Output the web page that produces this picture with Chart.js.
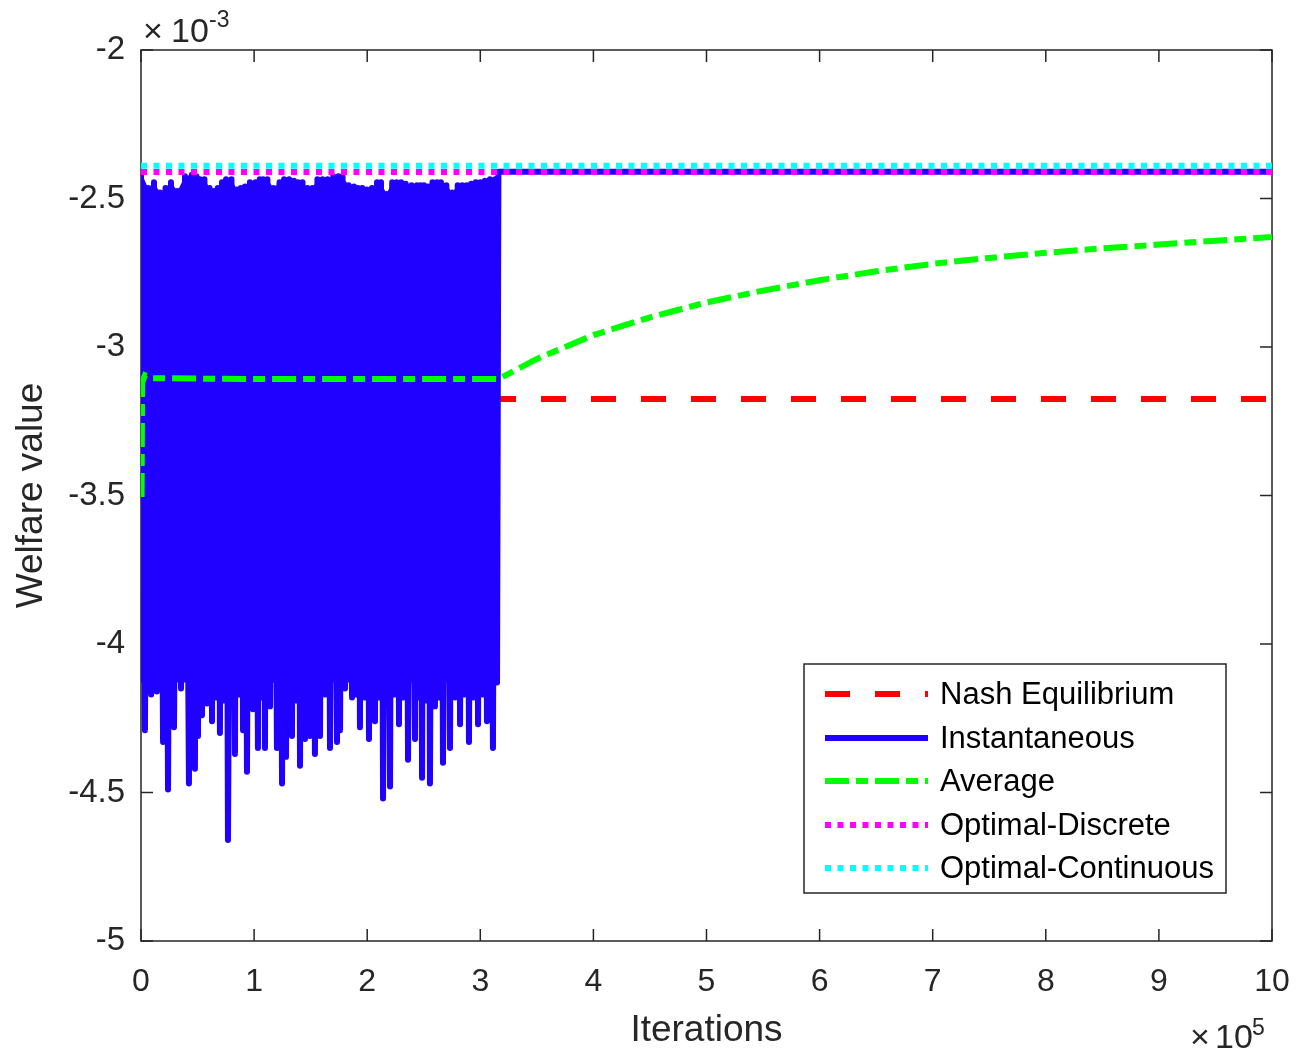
<!DOCTYPE html>
<html>
<head>
<meta charset="utf-8">
<script src="https://cdn.jsdelivr.net/npm/chart.js@4"></script>
<style>
  html, body { margin: 0; padding: 0; background: #ffffff; }
  #wrap { width: 1298px; height: 1053px; }
</style>
</head>
<body>
<div id="wrap"><canvas id="c" width="1298" height="1053"></canvas></div>
<script>
// ---- Data (x in units of 10^5 iterations, y in units of 10^-3) ----
const seriesNames = ['Nash Equilibrium', 'Instantaneous', 'Average', 'Optimal-Discrete', 'Optimal-Continuous'];

const xTickValues = [0, 1, 2, 3, 4, 5, 6, 7, 8, 9, 10];
const yTickValues = [-5, -4.5, -4, -3.5, -3, -2.5, -2];

const nashX = [0, 10];
const nashY = [-3.175, -3.175];

const optDiscreteX = [0, 10];
const optDiscreteY = [-2.411, -2.411];

const optContinuousX = [0, 10];
const optContinuousY = [-2.39, -2.39];

const instX = [
  0.000, 0.035, 0.062, 0.090, 0.115, 0.140, 0.167, 0.195, 0.217, 0.239,
  0.265, 0.292, 0.323, 0.354, 0.389, 0.424, 0.450, 0.477, 0.490, 0.504,
  0.521, 0.539, 0.561, 0.584, 0.606, 0.628, 0.644, 0.660, 0.679, 0.698,
  0.716, 0.735, 0.752, 0.769, 0.800, 0.831, 0.848, 0.865, 0.883, 0.902,
  0.920, 0.937, 0.963, 0.990, 1.012, 1.034, 1.050, 1.065, 1.080, 1.096,
  1.118, 1.141, 1.172, 1.202, 1.225, 1.247, 1.265, 1.282, 1.310, 1.335,
  1.352, 1.370, 1.388, 1.406, 1.428, 1.450, 1.472, 1.494, 1.516, 1.538,
  1.560, 1.583, 1.605, 1.627, 1.650, 1.671, 1.700, 1.733, 1.746, 1.760,
  1.782, 1.804, 1.835, 1.866, 1.883, 1.900, 1.918, 1.936, 1.956, 1.976,
  1.996, 2.016, 2.042, 2.069, 2.087, 2.105, 2.122, 2.140, 2.171, 2.202,
  2.221, 2.240, 2.260, 2.281, 2.300, 2.320, 2.340, 2.361, 2.392, 2.423,
  2.440, 2.455, 2.470, 2.485, 2.502, 2.520, 2.537, 2.555, 2.577, 2.599,
  2.617, 2.635, 2.652, 2.670, 2.700, 2.732, 2.755, 2.777, 2.800, 2.821,
  2.840, 2.860, 2.880, 2.900, 2.920, 2.940, 2.960, 2.980, 3.000, 3.020,
  3.040, 3.059, 3.085, 3.112, 3.130, 3.148, 3.160, 10.000
];
const instY = [
  -2.410, -4.29, -2.465, -4.17, -2.445, -4.16, -2.480, -4.33, -2.465, -4.49,
  -2.445, -4.28, -2.475, -4.15, -2.425, -4.47, -2.420, -4.42, -2.425, -4.31,
  -2.435, -4.24, -2.435, -4.20, -2.465, -4.26, -2.475, -4.18, -2.465, -4.30,
  -2.445, -4.19, -2.435, -4.66, -2.435, -4.37, -2.470, -4.17, -2.465, -4.29,
  -2.460, -4.43, -2.445, -4.22, -2.445, -4.35, -2.435, -4.18, -2.435, -4.35,
  -2.435, -4.21, -2.465, -4.35, -2.445, -4.47, -2.435, -4.38, -2.435, -4.31,
  -2.440, -4.19, -2.445, -4.41, -2.445, -4.32, -2.465, -4.31, -2.465, -4.37,
  -2.435, -4.31, -2.435, -4.17, -2.435, -4.35, -2.425, -4.33, -2.425, -4.29,
  -2.425, -4.15, -2.455, -4.18, -2.460, -4.17, -2.465, -4.28, -2.465, -4.18,
  -2.470, -4.32, -2.465, -4.26, -2.445, -4.18, -2.445, -4.52, -2.485, -4.48,
  -2.445, -4.17, -2.445, -4.27, -2.445, -4.18, -2.450, -4.39, -2.455, -4.32,
  -2.455, -4.18, -2.455, -4.45, -2.455, -4.19, -2.460, -4.47, -2.445, -4.21,
  -2.445, -4.18, -2.445, -4.40, -2.455, -4.35, -2.480, -4.18, -2.455, -4.27,
  -2.455, -4.17, -2.455, -4.33, -2.450, -4.18, -2.445, -4.27, -2.445, -4.17,
  -2.440, -4.26, -2.435, -4.35, -2.435, -4.13, -2.410, -2.410
];

const avgX = [0.005, 0.010, 0.035, 0.100, 1.000, 2.000, 3.160, 3.500, 4.000, 4.500,
              5.000, 5.500, 6.000, 6.500, 7.000, 7.500, 8.000, 8.500, 9.000, 9.500, 10.000];
const avgY = [-3.505, -3.120, -3.095, -3.105, -3.108, -3.108, -3.108, -3.040, -2.960, -2.900,
              -2.850, -2.810, -2.775, -2.745, -2.720, -2.700, -2.683, -2.668, -2.655, -2.642, -2.630];

// lower edge of the dense oscillation band (where the line keeps returning)
const bandFloor = -4.13;

// ---- Styles ----
const AXIS_COLOR = '#262626';
const FONT = "'Liberation Sans', Arial, Helvetica, sans-serif";
const colors = ['#ff0000', '#2000ff', '#00ff00', '#ff00ff', '#00ffff'];
const dashes = [[25, 25], [], [24, 7, 12, 7], [6, 6.5], [6, 6.5]];
const widths = [6, 6, 6, 6, 6];

function pts(xs, ys) { return xs.map((x, i) => ({ x: x, y: ys[i] })); }

// band body: the upper turning points of the oscillating (instantaneous) series
const bandPts = pts(instX, instY).filter(p => p.y > -3 && p.x <= 3.16);

Chart.defaults.font.family = FONT;
Chart.defaults.color = AXIS_COLOR;

const axesPlugin = {
  id: 'matlabAxes',
  beforeDatasetsDraw(chart) {
    const { ctx, chartArea: a, scales } = chart;
    ctx.save();
    ctx.strokeStyle = AXIS_COLOR;
    ctx.lineWidth = 1.5;
    ctx.setLineDash([]);
    ctx.strokeRect(a.left, a.top, a.right - a.left, a.bottom - a.top);
    const tl = 12;
    ctx.beginPath();
    xTickValues.forEach(v => {
      const px = scales.x.getPixelForValue(v);
      ctx.moveTo(px, a.bottom); ctx.lineTo(px, a.bottom - tl);
      ctx.moveTo(px, a.top); ctx.lineTo(px, a.top + tl);
    });
    yTickValues.forEach(v => {
      const py = scales.y.getPixelForValue(v);
      ctx.moveTo(a.left, py); ctx.lineTo(a.left + tl, py);
      ctx.moveTo(a.right, py); ctx.lineTo(a.right - tl, py);
    });
    ctx.stroke();
    ctx.restore();
  },
  afterDraw(chart) {
    const { ctx, chartArea: a } = chart;
    ctx.save();
    ctx.fillStyle = AXIS_COLOR;
    ctx.textBaseline = 'alphabetic';
    ctx.textAlign = 'left';
    // x10^-3 multiplier
    ctx.font = '34px ' + FONT;
    ctx.fillText('\u00d7', 143, 42);
    ctx.fillText('10', 171, 42);
    ctx.font = '23px ' + FONT;
    ctx.fillText('-3', 209, 27);
    // x10^5 multiplier
    ctx.font = '34px ' + FONT;
    ctx.fillText('\u00d7', 1190, 1048);
    ctx.fillText('10', 1215, 1048);
    ctx.font = '23px ' + FONT;
    ctx.fillText('5', 1252, 1035);

    // Legend box
    const bx = 804, by = 664, bw = 422, bh = 229;
    ctx.fillStyle = '#ffffff';
    ctx.fillRect(bx, by, bw, bh);
    ctx.strokeStyle = AXIS_COLOR;
    ctx.lineWidth = 1.5;
    ctx.strokeRect(bx, by, bw, bh);
    const rowY = [694, 738, 781, 825, 868];
    chart.data.datasets.filter(ds => !ds.isBand).forEach((ds, i) => {
      const y = rowY[i];
      ctx.save();
      ctx.strokeStyle = ds.borderColor;
      ctx.lineWidth = ds.borderWidth;
      ctx.setLineDash(ds.borderDash || []);
      ctx.lineCap = 'butt';
      ctx.beginPath();
      ctx.moveTo(825, y); ctx.lineTo(928, y);
      ctx.stroke();
      ctx.restore();
      ctx.fillStyle = '#000000';
      ctx.font = '31px ' + FONT;
      ctx.textBaseline = 'middle';
      ctx.fillText(ds.label, 940, y + 1);
    });
    ctx.restore();
  }
};

const datasets = [
  { label: seriesNames[0], data: pts(nashX, nashY), order: 5 },
  { label: seriesNames[1], data: pts(instX, instY), order: 4, borderJoinStyle: 'round', borderCapStyle: 'round' },
  { label: seriesNames[2], data: pts(avgX, avgY), order: 3 },
  { label: seriesNames[3], data: pts(optDiscreteX, optDiscreteY), order: 2 },
  { label: seriesNames[4], data: pts(optContinuousX, optContinuousY), order: 1 }
].map((d, i) => Object.assign({
  borderColor: colors[i],
  backgroundColor: colors[i],
  borderWidth: widths[i],
  borderDash: dashes[i],
  pointRadius: 0,
  pointHoverRadius: 0,
  tension: 0,
  fill: false,
  borderCapStyle: 'butt'
}, d));

datasets.push({
  label: 'band', isBand: true, data: bandPts, order: 4.5,
  borderWidth: 0, borderColor: 'rgba(0,0,0,0)', backgroundColor: colors[1],
  pointRadius: 0, tension: 0, fill: { value: bandFloor }
});

new Chart(document.getElementById('c'), {
  type: 'line',
  data: { datasets: datasets },
  options: {
    responsive: false,
    animation: false,
    devicePixelRatio: 1,
    layout: { padding: { left: 0, top: 50, right: 26, bottom: 0 } },
    plugins: { legend: { display: false }, tooltip: { enabled: false } },
    events: [],
    scales: {
      x: {
        type: 'linear', position: 'bottom', min: 0, max: 10,
        afterBuildTicks: s => { s.ticks = xTickValues.map(v => ({ value: v })); },
        ticks: { font: { size: 32 }, color: AXIS_COLOR, padding: 22, maxRotation: 0, autoSkip: false,
                 callback: v => String(v) },
        grid: { display: false, drawTicks: false },
        border: { display: false },
        title: { display: true, text: 'Iterations', font: { size: 37 }, color: AXIS_COLOR, padding: { top: 0, bottom: 0 } },
        afterFit: s => { s.height = 112; s.paddingLeft = 0; s.paddingRight = 0; }
      },
      y: {
        type: 'linear', position: 'left', min: -5, max: -2,
        afterBuildTicks: s => { s.ticks = yTickValues.map(v => ({ value: v })); },
        ticks: { font: { size: 33 }, color: AXIS_COLOR, padding: 16, autoSkip: false,
                 callback: v => String(v) },
        grid: { display: false, drawTicks: false },
        border: { display: false },
        title: { display: true, text: 'Welfare value', font: { size: 37 }, color: AXIS_COLOR, padding: { top: 10, bottom: 0 } },
        afterFit: s => { s.width = 141; s.paddingTop = 0; s.paddingBottom = 0; }
      }
    }
  },
  plugins: [axesPlugin]
});
</script>
</body>
</html>
